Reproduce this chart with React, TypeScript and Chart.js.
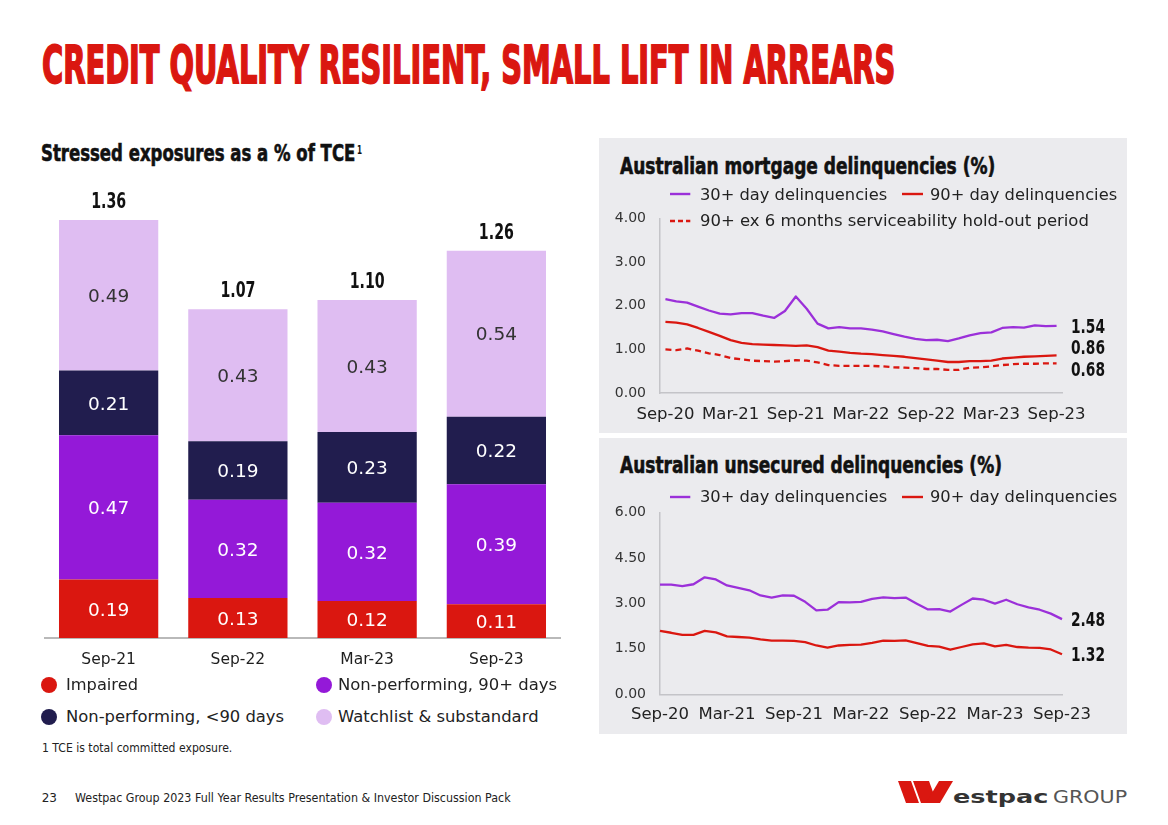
import React, { useEffect, useLayoutEffect, useRef } from "react";
import { Chart, registerables } from "chart.js";

Chart.register(...registerables);

// ---------- colours & fonts ----------
const RED = "#da1710";
const PURPLE = "#9419d8";
const NAVY = "#211d4e";
const LAVENDER = "#dfbdf2";
const LINE_PURPLE = "#9b30d9";
const PANEL_GREY = "#ebebee";
const AXIS_GREY = "#c4c4c8";
const TEXT = "#1e1e1e";
const COND = '"DejaVu Sans Condensed", "Liberation Sans Narrow", "DejaVu Sans", sans-serif';
const BODY = '"DejaVu Sans", "Open Sans", sans-serif';

// ---------- Stressed exposures (stacked bars) ----------
const barCategories = ["Sep-21", "Sep-22", "Mar-23", "Sep-23"];
const impaired = [0.19, 0.13, 0.12, 0.11];
const nonPerforming90 = [0.47, 0.32, 0.32, 0.39];
const nonPerformingLt90 = [0.21, 0.19, 0.23, 0.22];
const watchlist = [0.49, 0.43, 0.43, 0.54];
const barTotals = [1.36, 1.07, 1.1, 1.26];

// ---------- monthly axis ----------
const monthLabels = [
  "Sep-20", "Oct-20", "Nov-20", "Dec-20", "Jan-21", "Feb-21", "Mar-21", "Apr-21", "May-21", "Jun-21",
  "Jul-21", "Aug-21", "Sep-21", "Oct-21", "Nov-21", "Dec-21", "Jan-22", "Feb-22", "Mar-22", "Apr-22",
  "May-22", "Jun-22", "Jul-22", "Aug-22", "Sep-22", "Oct-22", "Nov-22", "Dec-22", "Jan-23", "Feb-23",
  "Mar-23", "Apr-23", "May-23", "Jun-23", "Jul-23", "Aug-23", "Sep-23",
];
const axisTickLabels = ["Sep-20", "Mar-21", "Sep-21", "Mar-22", "Sep-22", "Mar-23", "Sep-23"];

// ---------- Australian mortgage delinquencies (%) ----------
const mortgage30 = [
  2.15, 2.1, 2.07, 1.98, 1.89, 1.82, 1.8, 1.83, 1.83, 1.77, 1.72, 1.88, 2.21, 1.93, 1.59, 1.48, 1.51, 1.48, 1.48,
  1.45, 1.41, 1.35, 1.29, 1.24, 1.21, 1.22, 1.19, 1.25, 1.32, 1.37, 1.39, 1.49, 1.51, 1.5, 1.55, 1.53, 1.54,
];
const mortgage90 = [
  1.63, 1.61, 1.57, 1.49, 1.4, 1.31, 1.21, 1.15, 1.12, 1.11, 1.1, 1.09, 1.08, 1.09, 1.05, 0.97, 0.95, 0.92, 0.9,
  0.89, 0.87, 0.85, 0.83, 0.8, 0.77, 0.74, 0.71, 0.71, 0.73, 0.73, 0.74, 0.79, 0.81, 0.83, 0.84, 0.85, 0.86,
];
const mortgage90ExHoldOut = [
  1.0, 0.98, 1.02, 0.97, 0.91, 0.87, 0.8, 0.77, 0.74, 0.73, 0.72, 0.73, 0.75, 0.74, 0.7, 0.64, 0.62, 0.62, 0.62,
  0.62, 0.61, 0.59, 0.58, 0.57, 0.55, 0.55, 0.53, 0.53, 0.58, 0.59, 0.61, 0.64, 0.66, 0.67, 0.67, 0.68, 0.68,
];

// ---------- Australian unsecured delinquencies (%) ----------
const unsecured30 = [
  3.62, 3.62, 3.57, 3.63, 3.86, 3.79, 3.59, 3.51, 3.43, 3.26, 3.19, 3.26, 3.25, 3.05, 2.77, 2.79, 3.04, 3.03, 3.05,
  3.15, 3.2, 3.17, 3.19, 2.99, 2.8, 2.81, 2.73, 2.95, 3.16, 3.12, 2.99, 3.12, 2.97, 2.87, 2.79, 2.66, 2.48,
];
const unsecured90 = [
  2.09, 2.03, 1.96, 1.96, 2.09, 2.04, 1.91, 1.89, 1.87, 1.81, 1.77, 1.77, 1.76, 1.72, 1.61, 1.54, 1.61, 1.63, 1.64,
  1.7, 1.77, 1.76, 1.78, 1.69, 1.6, 1.57, 1.47, 1.56, 1.65, 1.68, 1.58, 1.63, 1.56, 1.54, 1.53, 1.48, 1.32,
];

// ---------- plugins ----------
const barLabelsPlugin = {
  id: "barLabels",
  afterDatasetsDraw(chart: any) {
    const ctx = chart.ctx as CanvasRenderingContext2D;
    ctx.save();
    ctx.textAlign = "center";
    ctx.textBaseline = "alphabetic";
    chart.data.datasets.forEach((ds: any, di: number) => {
      const meta = chart.getDatasetMeta(di);
      meta.data.forEach((el: any, i: number) => {
        const p = el.getProps(["x", "y", "base"], true);
        const mid = (p.y + p.base) / 2;
        ctx.font = `18.5px ${BODY}`;
        ctx.fillStyle = ds.labelColor;
        ctx.fillText(Number(ds.data[i]).toFixed(2), p.x, mid + 6.7);
      });
    });
    const top = chart.getDatasetMeta(chart.data.datasets.length - 1);
    ctx.font = `bold 21px ${COND}`;
    ctx.fillStyle = "#111";
    top.data.forEach((el: any, i: number) => {
      ctx.fillText(barTotals[i].toFixed(2), el.x, el.y - 11.7, 35);
    });
    ctx.restore();
  },
};

const endLabelsPlugin = {
  id: "endLabels",
  afterDatasetsDraw(chart: any, _args: any, opts: any) {
    const ctx = chart.ctx as CanvasRenderingContext2D;
    const area = chart.chartArea;
    ctx.save();
    ctx.font = `bold 19px ${COND}`;
    ctx.fillStyle = "#111";
    ctx.textAlign = "right";
    ctx.textBaseline = "alphabetic";
    chart.data.datasets.forEach((ds: any, di: number) => {
      const meta = chart.getDatasetMeta(di);
      const last = meta.data[meta.data.length - 1];
      const val = ds.data[ds.data.length - 1];
      const dy = (opts && opts.offsets && opts.offsets[di]) || 0;
      ctx.fillText(Number(val).toFixed(2), area.right + 43, last.y + dy + 6.9, 34);
    });
    ctx.restore();
  },
};

// ---------- helpers ----------
function FitText({ text, width, style }: { text: string; width?: number; style?: React.CSSProperties }) {
  const ref = useRef<HTMLSpanElement>(null);
  useLayoutEffect(() => {
    const el = ref.current;
    if (!el || !width) return;
    const fit = () => {
      el.style.transform = "none";
      const w = el.offsetWidth;
      if (w > 0) el.style.transform = `scaleX(${width / w})`;
    };
    fit();
    if ((document as any).fonts && (document as any).fonts.ready) (document as any).fonts.ready.then(fit);
  }, [text, width]);
  return (
    <span
      ref={ref}
      style={{ display: "inline-block", whiteSpace: "nowrap", transformOrigin: "left center", lineHeight: 1, ...style }}
    >
      {text}
    </span>
  );
}

function Abs({ x, y, children }: { x: number; y: number; children: React.ReactNode }) {
  return <div style={{ position: "absolute", left: x, top: y, lineHeight: 1 }}>{children}</div>;
}

function LegendText({ x, cy, text, width, size = 16 }: { x: number; cy: number; text: string; width?: number; size?: number }) {
  return (
    <Abs x={x} y={cy - 0.48 * size}>
      <FitText text={text} width={width} style={{ fontFamily: BODY, fontSize: size, color: "#222" }} />
    </Abs>
  );
}

function Dot({ cx, cy, color }: { cx: number; cy: number; color: string }) {
  return (
    <div
      style={{ position: "absolute", left: cx - 8, top: cy - 8, width: 16, height: 16, borderRadius: "50%", background: color }}
    />
  );
}

function LineSwatch({ x1, x2, cy, color, dashed }: { x1: number; x2: number; cy: number; color: string; dashed?: boolean }) {
  return (
    <svg style={{ position: "absolute", left: x1, top: cy - 3, overflow: "visible" }} width={x2 - x1} height={6}>
      <line x1={0} y1={3} x2={x2 - x1} y2={3} stroke={color} strokeWidth={2.4} strokeDasharray={dashed ? "5 3" : undefined} />
    </svg>
  );
}

function ChartBox({ box, make }: { box: { left: number; top: number; width: number; height: number }; make: (c: HTMLCanvasElement) => Chart }) {
  const ref = useRef<HTMLCanvasElement>(null);
  useEffect(() => {
    const chart = make(ref.current as HTMLCanvasElement);
    return () => chart.destroy();
  }, []);
  return (
    <div style={{ position: "absolute", ...box }}>
      <canvas ref={ref} style={{ display: "block" }} />
    </div>
  );
}

function makeBarChart(canvas: HTMLCanvasElement) {
  return new Chart(canvas, {
    type: "bar",
    data: {
      labels: barCategories,
      datasets: [
        { label: "Impaired", data: impaired, backgroundColor: RED, labelColor: "#ffffff" } as any,
        { label: "Non-performing, 90+ days", data: nonPerforming90, backgroundColor: PURPLE, labelColor: "#ffffff" } as any,
        { label: "Non-performing, <90 days", data: nonPerformingLt90, backgroundColor: NAVY, labelColor: "#ffffff" } as any,
        { label: "Watchlist & substandard", data: watchlist, backgroundColor: LAVENDER, labelColor: "#333333" } as any,
      ],
    },
    options: {
      animation: false,
      responsive: true,
      maintainAspectRatio: false,
      layout: { padding: { top: 7, left: 0, right: 0, bottom: 0 } },
      datasets: { bar: { barPercentage: 0.768, categoryPercentage: 1, borderWidth: 0 } },
      plugins: { legend: { display: false }, tooltip: { enabled: false } },
      scales: {
        x: {
          stacked: true,
          grid: { display: false, drawTicks: false },
          border: { display: true, color: "#b9b9b9", width: 2 },
          ticks: { color: TEXT, font: { family: BODY, size: 15.5 }, padding: 13, maxRotation: 0 },
          afterFit: (s: any) => {
            s.height = 40;
          },
        },
        y: { stacked: true, display: false, min: 0, max: 1.5 },
      },
    } as any,
    plugins: [barLabelsPlugin],
  });
}

function makeLineChart(
  canvas: HTMLCanvasElement,
  datasets: any[],
  yMax: number,
  step: number,
  offset: boolean,
  endOffsets: number[],
  xPad: number
) {
  return new Chart(canvas, {
    type: "line",
    data: { labels: monthLabels, datasets },
    options: {
      animation: false,
      responsive: true,
      maintainAspectRatio: false,
      layout: { padding: { top: 0, right: 65, left: 0, bottom: 0 } },
      elements: { point: { radius: 0 }, line: { borderWidth: 2.3, tension: 0, borderJoinStyle: "round" } },
      plugins: { legend: { display: false }, tooltip: { enabled: false }, endLabels: { offsets: endOffsets } },
      scales: {
        x: {
          offset,
          grid: { display: false, drawTicks: false },
          border: { display: true, color: AXIS_GREY, width: 1.5 },
          ticks: {
            autoSkip: false,
            maxRotation: 0,
            color: "#222",
            padding: xPad,
            font: { family: BODY, size: 16.5 },
            callback: (_v: any, i: number) => (axisTickLabels.includes(monthLabels[i]) ? monthLabels[i] : ""),
          },
          afterFit: (s: any) => {
            s.height = 34;
          },
        },
        y: {
          min: 0,
          max: yMax,
          grid: { display: false, drawTicks: false },
          border: { display: true, color: AXIS_GREY, width: 1.5 },
          ticks: {
            stepSize: step,
            color: "#333",
            padding: 14,
            font: { family: BODY, size: 14 },
            callback: (v: any) => Number(v).toFixed(2),
          },
          afterFit: (s: any) => {
            s.width = 60;
          },
        },
      },
    } as any,
    plugins: [endLabelsPlugin],
  });
}

export default function App() {
  return (
    <div
      style={{
        position: "absolute",
        left: 0,
        top: 0,
        width: 1168,
        height: 825,
        background: "#ffffff",
        overflow: "hidden",
        fontFamily: BODY,
      }}
    >
      {/* Slide title */}
      <Abs x={42} y={40}>
        <FitText
          text="CREDIT QUALITY RESILIENT, SMALL LIFT IN ARREARS"
          width={853}
          style={{ fontFamily: COND, fontWeight: 700, fontSize: 51, color: RED, WebkitTextStroke: `1.8px ${RED}` }}
        />
      </Abs>

      {/* Left: stressed exposures */}
      <Abs x={41} y={142.3}>
        <FitText
          text="Stressed exposures as a % of TCE"
          width={314}
          style={{ fontFamily: COND, fontWeight: 700, fontSize: 23, color: "#111", WebkitTextStroke: "0.6px #111" }}
        />
      </Abs>
      <Abs x={357} y={141}>
        <FitText text="1" width={5} style={{ fontFamily: COND, fontWeight: 700, fontSize: 13, color: "#111" }} />
      </Abs>

      <ChartBox box={{ left: 44, top: 170, width: 517, height: 508 }} make={makeBarChart} />

      <Dot cx={49.3} cy={685} color={RED} />
      <LegendText x={66} cy={685} text="Impaired" width={72} />
      <Dot cx={324} cy={685} color={PURPLE} />
      <LegendText x={338} cy={685} text="Non-performing, 90+ days" width={219} />
      <Dot cx={49.3} cy={716.7} color={NAVY} />
      <LegendText x={66} cy={716.7} text="Non-performing, <90 days" width={218} />
      <Dot cx={324} cy={716.7} color={LAVENDER} />
      <LegendText x={338} cy={716.7} text="Watchlist & substandard" width={201} />

      <LegendText x={41.7} cy={744.3} text="1 TCE is total committed exposure." width={190} size={12} />

      {/* Panels */}
      <div style={{ position: "absolute", left: 599, top: 138, width: 528, height: 295, background: PANEL_GREY }} />
      <div style={{ position: "absolute", left: 599, top: 437.5, width: 528, height: 296.5, background: PANEL_GREY }} />

      {/* Mortgage chart */}
      <ChartBox
        box={{ left: 600, top: 196.3, width: 527, height: 231 }}
        make={(c) =>
          makeLineChart(
            c,
            [
              { label: "30+ day delinquencies", data: mortgage30, borderColor: LINE_PURPLE },
              { label: "90+ day delinquencies", data: mortgage90, borderColor: RED },
              {
                label: "90+ ex 6 months serviceability hold-out period",
                data: mortgage90ExHoldOut,
                borderColor: RED,
                borderDash: [6, 4],
              },
            ],
            4,
            1,
            true,
            [0, -8, 6],
            12
          )
        }
      />
      <Abs x={620.4} y={154.5}>
        <FitText
          text="Australian mortgage delinquencies (%)"
          width={375}
          style={{ fontFamily: COND, fontWeight: 700, fontSize: 23.6, color: "#111", WebkitTextStroke: "0.6px #111" }}
        />
      </Abs>
      <LineSwatch x1={669.7} x2={690} cy={194.3} color={LINE_PURPLE} />
      <LegendText x={700} cy={194.3} text="30+ day delinquencies" width={187} />
      <LineSwatch x1={902} x2={923} cy={194.3} color={RED} />
      <LegendText x={929.6} cy={194.3} text="90+ day delinquencies" width={187} />
      <LineSwatch x1={669.7} x2={690} cy={220.7} color={RED} dashed />
      <LegendText x={700} cy={220.7} text="90+ ex 6 months serviceability hold-out period" width={389} />

      {/* Unsecured chart */}
      <ChartBox
        box={{ left: 600, top: 489.7, width: 527, height: 238.3 }}
        make={(c) =>
          makeLineChart(
            c,
            [
              { label: "30+ day delinquencies", data: unsecured30, borderColor: LINE_PURPLE },
              { label: "90+ day delinquencies", data: unsecured90, borderColor: RED },
            ],
            6,
            1.5,
            false,
            [0, 0],
            11
          )
        }
      />
      <Abs x={620.4} y={453.9}>
        <FitText
          text="Australian unsecured delinquencies (%)"
          width={382}
          style={{ fontFamily: COND, fontWeight: 700, fontSize: 23.6, color: "#111", WebkitTextStroke: "0.6px #111" }}
        />
      </Abs>
      <LineSwatch x1={669.7} x2={690} cy={496.7} color={LINE_PURPLE} />
      <LegendText x={700} cy={496.7} text="30+ day delinquencies" width={187} />
      <LineSwatch x1={902} x2={923} cy={496.7} color={RED} />
      <LegendText x={929.6} cy={496.7} text="90+ day delinquencies" width={187} />

      {/* Footer */}
      <LegendText x={41.7} cy={795} text="23" size={12} />
      <LegendText
        x={75}
        cy={795}
        text="Westpac Group 2023 Full Year Results Presentation & Investor Discussion Pack"
        width={436}
        size={12}
      />

      {/* Logo */}
      <svg style={{ position: "absolute", left: 896, top: 779 }} width={60} height={26}>
        <polygon points="2,2 15,2 23,24 10,24" fill={RED} />
        <polygon points="17,2 33,2 41,24 25,24" fill={RED} />
        <polygon points="43,2 57,2 44,24 30,24" fill={RED} />
      </svg>
      <Abs x={953} y={787.8}>
        <FitText text="estpac" width={95} style={{ fontFamily: BODY, fontWeight: 700, fontSize: 18.3, color: "#333" }} />
      </Abs>
      <Abs x={1052.7} y={788.7}>
        <FitText text="GROUP" width={74} style={{ fontFamily: BODY, fontWeight: 400, fontSize: 17.3, color: "#555" }} />
      </Abs>
    </div>
  );
}
